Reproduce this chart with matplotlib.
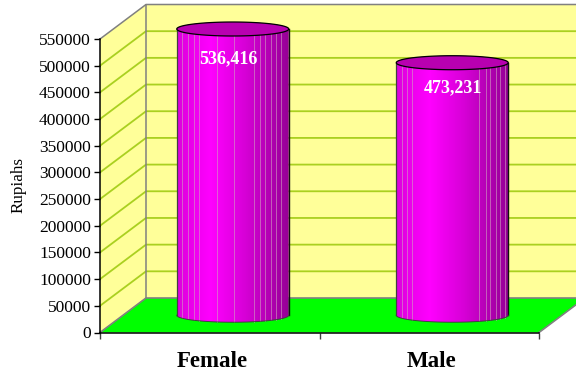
import numpy as np
import matplotlib
matplotlib.use("Agg")
import matplotlib.pyplot as plt
from matplotlib.colors import LinearSegmentedColormap
from matplotlib.patches import Polygon, PathPatch
from matplotlib.path import Path
from matplotlib.ticker import FixedLocator, FixedFormatter
from matplotlib.transforms import ScaledTranslation

plt.rcParams['font.family'] = ['Liberation Serif', 'DejaVu Serif']

# Data
categories = ['Female', 'Male']
values = [536416, 473231]
value_labels = ['536,416', '473,231']
y_ticks = list(range(0, 550001, 50000))

# Light seams between the facets of each cylinder (fraction of its width)
seams = [
    [0.05, 0.10, 0.155, 0.20, 0.355, 0.51, 0.69, 0.74, 0.79, 0.84, 0.89, 0.93],
    [0.05, 0.10, 0.14, 0.74, 0.80, 0.84, 0.89, 0.93, 0.97],
]
# Nudge of each value label from the cylinder's top centre, in pixels
label_nudge = [(-4, -29.5), (1, -25)]

Y_MAX = 550000
# Depth of the box, in data units
DX = 46 / 219.5
DY = 34.5 * Y_MAX / 293.5
CYL_W = 112 / 219.5
ELL_H = 7 * Y_MAX / 293.5

WALL = '#FFFF99'
GRID = '#AAD020'
EDGE = '#808080'
FLOOR = '#00FF00'

fig = plt.figure(figsize=(5.76, 3.71), dpi=100)
# front plane of the box: x 100-539 px, y 39-332.5 px from the top
ax = fig.add_axes([100 / 576, (371 - 332.5) / 371, 439 / 576, 293.5 / 371])
ax.patch.set_visible(False)

# Walls and floor
ax.add_patch(Polygon([(0, 0), (DX, DY), (DX, Y_MAX + DY), (0, Y_MAX)],
                     fc=WALL, ec='none', clip_on=False, zorder=1))
ax.add_patch(Polygon([(DX, DY), (2 + DX, DY), (2 + DX, Y_MAX + DY), (DX, Y_MAX + DY)],
                     fc=WALL, ec='none', clip_on=False, zorder=1))
for v in y_ticks[1:-1]:
    ax.plot([0, DX, 2 + DX], [v, v + DY, v + DY], color=GRID, lw=1.3,
            clip_on=False, zorder=1.2)
ax.plot([0, DX, 2 + DX], [Y_MAX, Y_MAX + DY, Y_MAX + DY], color=EDGE, lw=1.1,
        clip_on=False, zorder=1.2)
ax.plot([DX, DX], [DY, Y_MAX + DY], color=EDGE, lw=1.1, clip_on=False, zorder=1.3)
ax.add_patch(Polygon([(0, 0), (2, 0), (2 + DX, DY), (DX, DY)],
                     fc=FLOOR, ec='none', clip_on=False, zorder=1.4))
ax.plot([0, DX, 2 + DX, 2], [0, DY, DY, 0], color=EDGE, lw=1.2,
        clip_on=False, zorder=1.5)

# Shading around the cylinder, lit from left of centre
shade = LinearSegmentedColormap.from_list(
    'shade', [(0, '#DC00DC'), (0.3, '#FF00FF'), (0.6, '#D800D8'), (1, '#960096')])
gradient = np.linspace(0, 1, 256).reshape(1, -1)


def cylinder(i, value):
    cx = i + 0.5 + DX / 2
    base = DY / 2
    top = base + value
    left = cx - CYL_W / 2
    right = cx + CYL_W / 2
    t = np.linspace(0, np.pi, 60)
    xs = cx - np.cos(t) * CYL_W / 2

    # body outline, bottom arc then back across the top
    body_x = np.concatenate([xs, xs[::-1]])
    body_y = np.concatenate([base - np.sin(t) * ELL_H, top + np.sin(t[::-1]) * ELL_H])
    verts = np.column_stack([body_x, body_y])
    body = PathPatch(Path(np.vstack([verts, verts[0]])), fc='none', ec='none',
                     transform=ax.transData, clip_on=False)
    ax.add_patch(body)
    im = ax.imshow(gradient, cmap=shade, extent=(left, right, base - ELL_H, top + ELL_H),
                   aspect='auto', interpolation='bilinear', zorder=2)
    im.set_clip_path(body)
    im.set_clip_box(fig.bbox)

    for f in seams[i]:
        x = left + f * CYL_W
        arc = np.sqrt(max(0, 1 - (2 * f - 1) ** 2))
        ax.plot([x, x], [base - arc * ELL_H, top - arc * ELL_H], color='#D0A0C0',
                lw=0.7, alpha=0.6, clip_on=False, zorder=2.1)

    # outline of the sides and bottom
    ax.plot([left, left], [base, top], color='#404040', lw=0.9, clip_on=False, zorder=2.2)
    ax.plot([right, right], [base, top], color='#101010', lw=1, clip_on=False, zorder=2.2)
    ax.plot(xs, base - np.sin(t) * ELL_H, color='#404040', lw=0.7, clip_on=False, zorder=2.2)

    # top cap
    a = np.linspace(0, 2 * np.pi, 120)
    cap = np.column_stack([cx + np.cos(a) * CYL_W / 2, top + np.sin(a) * ELL_H])
    ax.add_patch(Polygon(cap, fc='#B800B0', ec='black', lw=0.9, clip_on=False, zorder=2.3))

    nudge_x, nudge_y = label_nudge[i]
    ax.annotate(value_labels[i], (cx, top), xytext=(nudge_x * 0.72, nudge_y * 0.72),
                textcoords='offset points', color='white', fontsize=13,
                fontweight='bold', ha='center', va='center', zorder=3,
                annotation_clip=False)


for i, v in enumerate(values):
    cylinder(i, v)

ax.set_xlim(0, 2)
ax.set_ylim(0, Y_MAX)

# Axes
for side in ['top', 'right']:
    ax.spines[side].set_visible(False)
ax.spines['left'].set_linewidth(1.1)
ax.spines['bottom'].set_linewidth(1.1)
ax.spines['left'].set_zorder(1.6)
ax.spines['bottom'].set_zorder(1.6)

ax.set_yticks(y_ticks)
ax.set_yticklabels([str(v) for v in y_ticks])
ax.tick_params(axis='y', length=4, width=1, pad=2.5, labelsize=12.5)

ax.xaxis.set_major_locator(FixedLocator([0, 1, 2]))
ax.xaxis.set_major_formatter(FixedFormatter(['', '', '']))
ax.xaxis.set_minor_locator(FixedLocator([0.5 + i for i in range(len(categories))]))
ax.xaxis.set_minor_formatter(FixedFormatter(categories))
ax.tick_params(axis='x', which='major', length=4.5, width=1, color='#404040')
ax.tick_params(axis='x', which='minor', length=0, pad=13.5, labelsize=16.5)
shift = ScaledTranslation(2.5 / 100, 0, fig.dpi_scale_trans)
for lab in ax.get_xticklabels(minor=True):
    lab.set_fontweight('bold')
    lab.set_transform(lab.get_transform() + shift)

fig.text(19 / 576, 1 - 185 / 371, 'Rupiahs', rotation=90, fontsize=12.3,
         ha='center', va='center')

fig.savefig('out.png', dpi=100)
